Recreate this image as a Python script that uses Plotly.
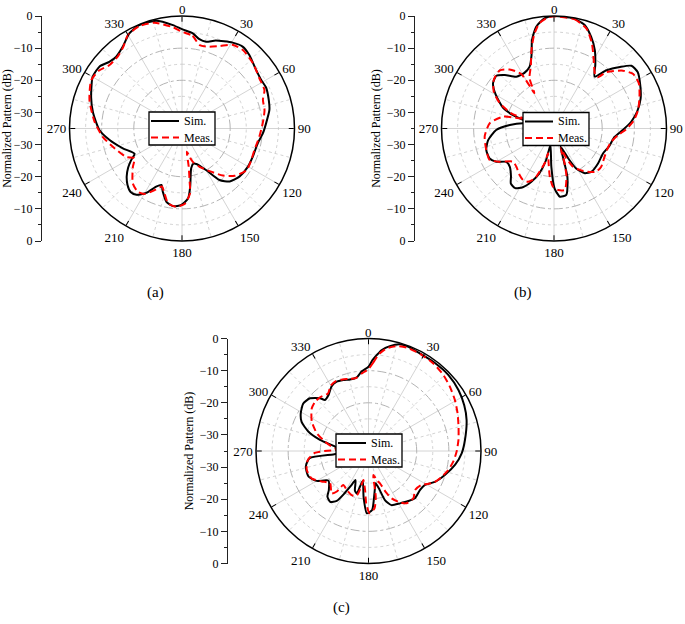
import plotly.graph_objects as go
import numpy as np

# ---------------------------------------------
#  Normalized radiation patterns (dB vs. angle)
# ---------------------------------------------

# (a)
theta_a_sim = [0, 6.5, 11, 15.5, 21, 30.5, 36.5, 42.5, 51.5, 58.5, 64, 72, 78, 86.5, 93.5, 101,
               111.5, 120, 130, 138, 144, 150, 158, 162, 167, 172, 175, 180.5, 186.5, 192, 197,
               200, 204, 209, 214.5, 219, 224, 229, 234, 238, 242, 251.5, 261, 269, 280, 289,
               300, 307, 312.5, 317.5, 324, 331, 337.5, 346.5, 355]
r_a_sim = [-4.1, -5.2, -6.7, -7.0, -5.7, -4.0, -3.3, -4.0, -5.6, -6.1, -5.9, -6.6, -7.2, -8.8,
           -9.8, -11.0, -11.3, -11.3, -11.7, -12.8, -15.2, -20.1, -23.1, -23.5, -22.3, -16.7,
           -13.2, -11.2, -10.7, -11.7, -14.5, -16.3, -15.2, -12.1, -10.0, -9.6, -10.6, -12.2,
           -14.3, -16.3, -18.3, -15.6, -12.2, -9.3, -6.9, -5.1, -2.9, -2.9, -4.3, -4.7, -3.6,
           -1.2, -0.2, -0.5, -2.7]
theta_a_meas = [0, 6.5, 12, 17.5, 24.5, 31, 38, 47.5, 57, 65, 70.5, 77.5, 86, 96, 106.5, 115,
                123, 132, 139, 146, 155.5, 162, 166, 168.3, 170, 171.7, 173, 178, 184.5, 190.5,
                196, 199, 204, 210, 215, 222, 232, 238, 243, 255, 264, 274.5, 287, 298, 305,
                311, 318, 324, 330, 337.5, 345.5, 355]
r_a_meas = [-4.9, -6.0, -8.5, -8.3, -6.8, -4.6, -4.1, -5.0, -6.3, -6.7, -8.3, -8.7, -9.8,
            -10.8, -11.5, -11.3, -11.1, -13.0, -15.6, -18.8, -21.9, -24.1, -26.5, -27.6, -23.0,
            -18.8, -14.6, -11.5, -10.6, -11.3, -14.6, -15.9, -14.0, -11.5, -11.0, -12.1, -15.6,
            -17.6, -15.5, -12.8, -10.2, -7.7, -4.9, -3.0, -3.5, -5.0, -5.0, -3.8, -1.4, -0.5,
            -1.0, -3.4]

# (b)
theta_b_sim = [0, 10, 16.5, 22, 27.5, 33, 38, 42, 47, 51, 56, 63, 71, 78.5, 85, 91, 98, 108,
               117, 128.5, 139, 145.5, 151, 154, 160, 163, 164.5, 169.5, 175, 179.5, 184, 192,
               194, 198, 203, 208, 213, 218, 222, 229, 235, 240, 245, 252.5, 260, 268.5, 274.5,
               279.5, 282, 285.5, 288, 292, 300, 306.5, 312.5, 317.5, 324, 332, 338.5, 343,
               346, 350, 355]
r_b_sim = [0.0, -0.2, -1.4, -4.2, -7.5, -11.4, -14.5, -10.6, -6.9, -4.0, -3.6, -4.9, -6.5,
           -8.6, -10.9, -13.5, -16.0, -17.0, -17.9, -17.5, -17.2, -18.1, -20.8, -24.1, -29.0,
           -24.7, -19.4, -14.0, -13.7, -16.4, -23.1, -29.7, -24.9, -20.4, -17.0, -14.3, -12.9,
           -13.2, -15.0, -16.8, -16.9, -14.3, -12.9, -12.9, -14.2, -17.0, -21.2, -25.2, -30.0,
           -25.0, -21.6, -18.0, -14.1, -11.4, -10.7, -12.4, -15.1, -15.4, -14.3, -11.1, -6.7,
           -2.9, -0.6]
theta_b_meas = [0, 10.5, 18, 24, 30, 37, 40.5, 43, 50, 55.5, 62, 69.5, 77.5, 84.5, 90.5, 96,
                103, 110, 119, 129, 135.5, 142, 148, 153.5, 157.5, 161, 163, 165.5, 170, 176,
                181, 185, 190, 193.5, 195, 198.5, 201, 206, 211, 216.5, 224.5, 231, 238.5, 244,
                252.5, 263.5, 274.5, 283, 286.5, 288, 289.5, 295, 301.5, 309, 317, 323, 329,
                331, 334, 339.5, 344, 348, 352, 357]
r_b_meas = [-0.1, -0.4, -2.3, -6.0, -10.3, -13.8, -14.0, -11.0, -7.0, -5.1, -5.1, -6.6, -8.2,
            -10.1, -12.5, -15.0, -16.7, -17.2, -17.0, -16.1, -16.2, -17.9, -19.8, -21.7, -25.0,
            -28.5, -23.7, -19.5, -15.6, -15.8, -16.9, -20.0, -25.0, -27.1, -23.8, -20.8, -18.4,
            -16.6, -16.3, -17.0, -18.3, -18.6, -15.2, -12.7, -12.9, -13.3, -14.9, -18.7, -23.9,
            -26.0, -20.9, -16.4, -13.0, -10.9, -10.3, -12.0, -15.2, -22.4, -17.6, -14.4, -9.6,
            -5.2, -2.0, -0.4]

# (c)
theta_c_sim = [0, 2.5, 5, 7.5, 11.5, 16.5, 21, 28, 36, 46.5, 56, 64.5, 72.5, 83.5, 91.5, 99,
               107.5, 115, 121, 127, 135.5, 141.5, 149, 157, 161.5, 164, 167.5, 172, 176.5,
               181.5, 186, 191, 195.5, 199, 204, 207, 209.5, 212.5, 217, 222, 225.5, 233.5,
               240, 247, 256, 263, 264.5, 268, 273, 277.5, 283, 288, 293.5, 299, 306, 312,
               317.5, 319.5, 324.5, 330, 335, 340.5, 345.5, 351, 355]
r_c_sim = [-8.8, -6.7, -5.0, -3.3, -1.7, -0.4, -0.3, -0.7, -0.7, -0.7, -1.2, -2.0, -3.0, -4.8,
           -6.0, -7.7, -10.1, -12.2, -14.5, -14.9, -14.4, -15.1, -16.0, -16.7, -18.9, -22.4,
           -24.7, -21.7, -16.6, -15.6, -20.5, -25.5, -21.3, -22.0, -25.1, -22.7, -19.9, -16.6,
           -15.2, -15.9, -17.7, -19.5, -16.4, -14.7, -14.9, -16.5, -24.0, -30.0, -26.0, -24.5,
           -19.5, -15.3, -12.3, -10.9, -9.9, -10.5, -12.7, -14.1, -13.6, -11.9, -11.3, -11.6,
           -12.0, -11.8, -10.2]
theta_c_meas = [0, 3, 6, 10, 15, 20.5, 28, 36.5, 44.5, 51.5, 59.5, 67, 75, 83, 90.5, 97,
                103.5, 110, 116, 123, 130, 136.5, 144, 148.5, 154, 157, 160.5, 164, 168.5, 171,
                174, 179, 182.5, 185, 190, 192.5, 195, 201, 209, 216.5, 218, 221, 230, 237, 244,
                253, 261.5, 268, 271.5, 273, 274.5, 282, 289, 297.5, 307, 312.5, 318, 325, 330,
                335, 340, 345, 350, 355]
r_c_meas = [-9.5, -7.5, -4.8, -2.6, -1.2, -0.7, -0.8, -1.1, -1.8, -2.7, -3.8, -4.9, -6.0,
            -6.8, -7.6, -8.4, -9.5, -11.0, -12.5, -15.5, -16.1, -14.7, -14.9, -16.2, -18.6,
            -21.0, -24.3, -25.5, -27.4, -20.6, -17.1, -15.6, -18.7, -22.8, -25.8, -22.6, -20.5,
            -20.3, -21.1, -21.8, -19.0, -17.5, -19.4, -17.6, -15.4, -14.9, -15.9, -18.3, -24.6,
            -29.0, -24.5, -21.2, -18.0, -15.1, -12.9, -12.4, -12.5, -13.1, -11.5, -11.0, -11.3,
            -11.8, -12.0, -10.8]

series_names = ["Sim.", "Meas."]
panel_labels = ["(a)", "(b)", "(c)"]

angle_ticks = list(range(0, 360, 30))
angle_text = [str(a) for a in angle_ticks]
minor_spokes = list(range(15, 360, 30))
major_rings = [-30, -20, -10]
minor_rings = [-25, -15, -5]
r_range = [-35, 0]

# left-hand mirrored dB scale: 0 at top, -35 in the middle, 0 at the bottom
scale_vals = [0, 10, 20, 30, 40, 50, 60, 70]
scale_text = ["0", "\u221210", "\u221220", "\u221230", "\u221230", "\u221220", "\u221210", "0"]
scale_minor = [5, 15, 25, 35, 45, 55, 65]

FONT = "Liberation Serif"
W, H = 685, 624
SIM_LINE = dict(color="black", width=2)
MEAS_LINE = dict(color="#ff0000", width=2, dash="7px,4px")


def fx(px):
    return px / W


def fy(py):
    return 1 - py / H


# pixel boxes of each panel: circle (left, top, size), scale line x, legend corner, label
panels = [
    dict(key="polar", data=((theta_a_sim, r_a_sim), (theta_a_meas, r_a_meas)),
         box=(69.5, 16, 225), scale_x=41, leg=(149, 112), lab=(155, 292)),
    dict(key="polar2", data=((theta_b_sim, r_b_sim), (theta_b_meas, r_b_meas)),
         box=(441.5, 16, 225), scale_x=414, leg=(523, 112.5), lab=(523, 292)),
    dict(key="polar3", data=((theta_c_sim, r_c_sim), (theta_c_meas, r_c_meas)),
         box=(256, 338.5, 225), scale_x=227, leg=(336, 434), lab=(341, 607)),
]

fig = go.Figure()
layout = {}
shapes = []
annotations = []
ring_theta = np.arange(0, 361, 2)

for i, p in enumerate(panels):
    sub = p["key"]
    left, top, size = p["box"]

    # dotted minor grid
    for rr in minor_rings:
        fig.add_trace(go.Scatterpolar(
            theta=ring_theta, r=[rr] * len(ring_theta), subplot=sub, mode="lines",
            line=dict(color="#c8c8c8", width=0.8, dash="dot"),
            showlegend=False, hoverinfo="skip"))
    for a in minor_spokes:
        fig.add_trace(go.Scatterpolar(
            theta=[a, a], r=r_range, subplot=sub, mode="lines",
            line=dict(color="#c8c8c8", width=0.8, dash="dot"),
            showlegend=False, hoverinfo="skip"))

    (ts, rs), (tm, rm) = p["data"]
    fig.add_trace(go.Scatterpolar(
        theta=ts + [ts[0]], r=rs + [rs[0]], subplot=sub, mode="lines",
        name=series_names[0], showlegend=False,
        line=dict(SIM_LINE, shape="spline", smoothing=0.6)))
    fig.add_trace(go.Scatterpolar(
        theta=tm + [tm[0]], r=rm + [rm[0]], subplot=sub, mode="lines",
        name=series_names[1], showlegend=False,
        line=dict(MEAS_LINE, shape="spline", smoothing=0.6)))

    # the "0" label at the top is placed by hand so it stays inside the page
    layout[sub] = dict(
        domain=dict(x=[fx(left), fx(left + size)], y=[fy(top + size), fy(top)]),
        bgcolor="white",
        angularaxis=dict(
            rotation=90, direction="clockwise", tickmode="array", tickvals=angle_ticks,
            ticktext=[""] + angle_text[1:],
            ticks="inside", ticklen=5, tickcolor="black", showline=True, linecolor="black",
            linewidth=1.5, gridcolor="#d4d4d4", gridwidth=0.8,
            tickfont=dict(family=FONT, size=13, color="black")),
        radialaxis=dict(
            range=r_range, tickmode="array", tickvals=major_rings, showticklabels=False,
            ticks="", showline=False, gridcolor="#b4b4b4", gridwidth=0.8, griddash="dashdot"),
    )
    annotations.append(dict(text=angle_text[0], x=fx(left + size / 2), y=fy(top - 16),
                            xref="paper", yref="paper", xanchor="center", yanchor="top",
                            showarrow=False, font=dict(family=FONT, size=13, color="black")))

    # mirrored dB scale on the left
    xa = "xaxis" if i == 0 else "xaxis%d" % (i + 1)
    ya = "yaxis" if i == 0 else "yaxis%d" % (i + 1)
    fig.add_trace(go.Scatter(x=[], y=[], xaxis=xa.replace("axis", ""),
                             yaxis=ya.replace("axis", ""), showlegend=False, hoverinfo="skip"))
    layout[xa] = dict(domain=[fx(p["scale_x"]), fx(p["scale_x"] + 2)], visible=False,
                      anchor=ya.replace("axis", ""), automargin=False)
    layout[ya] = dict(
        domain=[fy(top + size), fy(top)], range=[0, 70], anchor="free",
        position=fx(p["scale_x"]), tickmode="array", tickvals=scale_vals, ticktext=scale_text,
        ticks="outside", ticklen=6, tickwidth=1, tickcolor="#222", showline=True,
        linecolor="#222", linewidth=1.3, showgrid=False, zeroline=False, automargin=False,
        minor=dict(tickmode="array", tickvals=scale_minor, ticks="outside", ticklen=3,
                   tickcolor="#222", showgrid=False),
        tickfont=dict(family=FONT, size=12, color="black"),
        title=dict(text="Normalized Pattern (dB)", standoff=2,
                   font=dict(family=FONT, size=12, color="black")),
        fixedrange=True)

    # legend box drawn in the middle of each pattern
    lx, ly = p["leg"]
    lw, lh = 66, 33
    shapes.append(dict(type="rect", xref="paper", yref="paper",
                       x0=fx(lx), x1=fx(lx + lw), y0=fy(ly + lh), y1=fy(ly),
                       line=dict(color="black", width=1.3), fillcolor="white", layer="above"))
    for k, (name, style) in enumerate(zip(series_names, [SIM_LINE, MEAS_LINE])):
        yy = ly + 9 + k * 16.5
        shapes.append(dict(type="line", xref="paper", yref="paper",
                           x0=fx(lx + 2), x1=fx(lx + 30), y0=fy(yy), y1=fy(yy),
                           line=style, layer="above"))
        annotations.append(dict(text=name, x=fx(lx + 33), y=fy(yy), xref="paper",
                                yref="paper", xanchor="left", yanchor="middle",
                                showarrow=False,
                                font=dict(family=FONT, size=12, color="black")))

    annotations.append(dict(text=panel_labels[i], x=fx(p["lab"][0]), y=fy(p["lab"][1]),
                            xref="paper", yref="paper", xanchor="center", yanchor="middle",
                            showarrow=False, font=dict(family=FONT, size=15, color="black")))

fig.update_layout(**layout)
fig.update_layout(
    width=W, height=H, margin=dict(l=0, r=0, t=0, b=0, pad=0, autoexpand=False),
    paper_bgcolor="white", plot_bgcolor="white", showlegend=False,
    font=dict(family=FONT, color="black"),
    shapes=shapes, annotations=annotations,
)

# the page body keeps an 8px default margin; drop it so the figure sits at the corner
fig.write_html("out.html", config={"displayModeBar": False},
               post_script="document.body.style.margin = '0px';")
